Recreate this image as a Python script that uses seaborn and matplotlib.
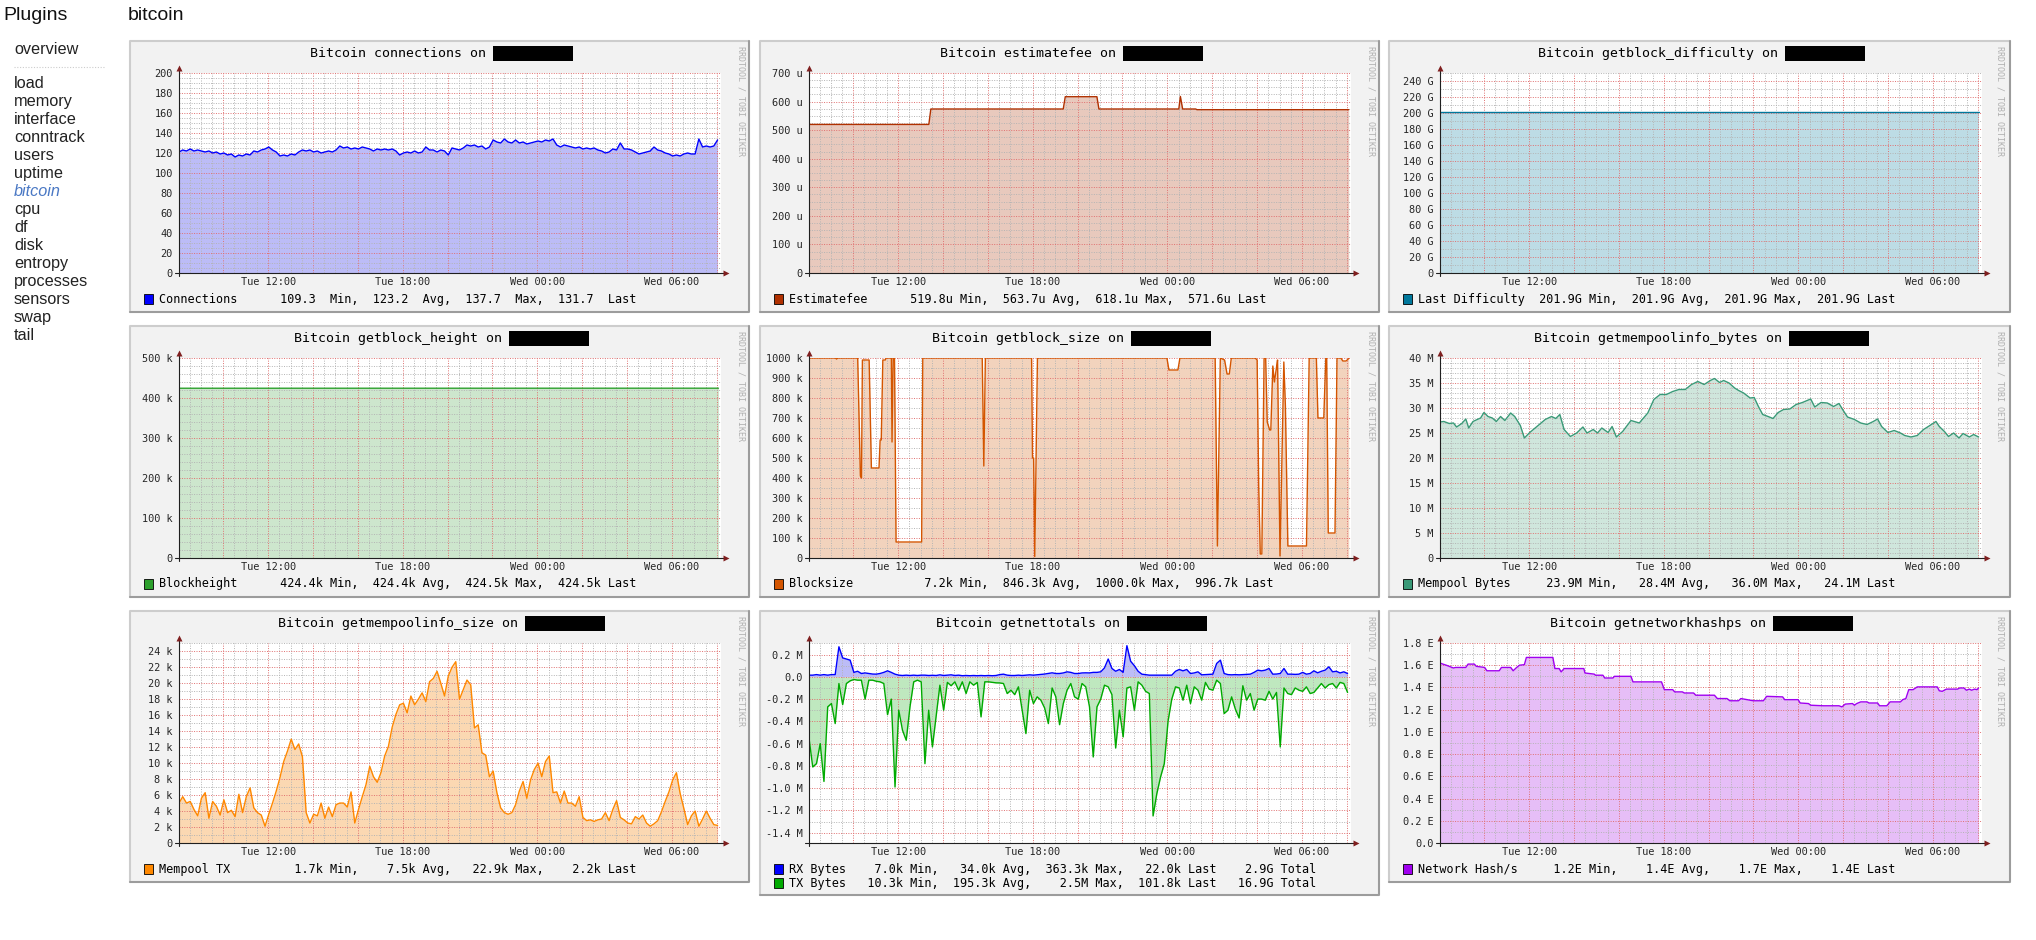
import numpy as np
import seaborn as sns
import matplotlib.pyplot as plt
from matplotlib.patches import Rectangle

sns.set_style("white")
plt.rcParams['font.family'] = ['DejaVu Sans Mono']

W, H = 2036, 940

# ---- data, time in hours since Tue 00:00 ----
# 10 minute samples
t10 = np.linspace(8.03, 32.03, 145)

conn_v = [121, 123, 122, 124, 122, 123, 122, 121, 122, 120,
          121, 119, 120, 118, 119, 116, 118, 117, 119, 118,
          122, 121, 123, 124, 126, 123, 121, 117, 118, 117,
          119, 118, 121, 123, 122, 123, 121, 122, 120, 121,
          122, 121, 123, 127, 125, 126, 124, 125, 124, 126,
          125, 124, 122, 124, 123, 124, 123, 124, 122, 118,
          120, 121, 120, 122, 120, 121, 126, 123, 123, 121,
          123, 122, 118, 125, 124, 123, 125, 128, 127, 128,
          126, 127, 124, 126, 133, 131, 130, 134, 131, 130,
          133, 130, 131, 129, 130, 131, 132, 131, 133, 132,
          134, 128, 126, 128, 127, 126, 125, 126, 124, 125,
          124, 125, 123, 122, 120, 121, 124, 123, 130, 124,
          124, 123, 121, 119, 120, 121, 122, 126, 123, 122,
          120, 119, 117, 118, 117, 119, 120, 119, 119, 134,
          126, 127, 126, 127, 133]

fee_t = [8.03, 13.37, 13.46, 19.36, 19.45, 20.86, 20.95, 24.51, 24.58, 24.68, 25.26, 25.32, 32.08]
fee_v = [520, 520, 574, 574, 617, 617, 574, 574, 618, 574, 574, 571.6, 571.6]

diff_t = [8.03, 32.07]
diff_v = [201.9, 201.9]

height_t = [8.03, 32.07]
height_v = [424.4, 424.5]

bsize_t = [8.03, 9.20, 9.26, 9.32, 10.20, 10.32, 10.37, 10.41, 10.71, 10.81,
           11.15, 11.20, 11.25, 11.32, 11.43, 11.47, 11.70, 11.73, 11.78, 11.84,
           11.91, 13.05, 13.10, 15.75, 15.82, 15.89, 17.95, 17.99, 18.04, 18.09,
           18.21, 23.98, 24.07, 24.47, 24.56, 26.13, 26.23, 26.36, 26.55, 26.66,
           26.76, 26.85, 27.91, 28.00, 28.07, 28.14, 28.21, 28.31, 28.38, 28.45,
           28.56, 28.61, 28.70, 28.77, 28.86, 28.91, 29.02, 29.19, 29.26, 29.37,
           30.20, 30.32, 30.64, 30.71, 30.97, 31.06, 31.10, 31.17, 31.47, 31.56,
           31.73, 31.82, 31.96, 32.08]
bsize_v = [1000, 1000, 995, 1000, 1000, 410, 400, 990, 990, 450,
           450, 590, 590, 990, 990, 1000, 1000, 580, 1000, 1000,
           80, 80, 1000, 1000, 460, 1000, 1000, 500, 500, 7,
           1000, 1000, 940, 940, 1000, 1000, 60, 1000, 990, 920,
           920, 1000, 1000, 990, 360, 20, 20, 1000, 1000, 680,
           640, 640, 960, 880, 950, 990, 10, 980, 760, 60,
           60, 1000, 1000, 700, 700, 1000, 1000, 125, 125, 1000,
           1000, 985, 985, 997]

mbytes_t = [8.03, 8.20, 8.44, 8.63, 8.77, 9.00, 9.18, 9.31, 9.50, 9.69,
            9.84, 9.99, 10.17, 10.36, 10.54, 10.73, 10.92, 11.18, 11.36, 11.61,
            11.79, 12.03, 12.35, 12.72, 13.00, 13.19, 13.37, 13.56, 13.84, 14.12,
            14.40, 14.58, 14.86, 15.05, 15.24, 15.52, 15.70, 15.89, 16.17, 16.54,
            16.91, 17.29, 17.56, 17.84, 18.12, 18.40, 18.68, 18.96, 19.24, 19.52,
            19.80, 20.08, 20.26, 20.49, 20.67, 20.91, 21.16, 21.34, 21.56, 21.85,
            22.03, 22.22, 22.41, 22.65, 22.87, 23.10, 23.34, 23.62, 23.90, 24.18,
            24.55, 24.73, 25.01, 25.29, 25.57, 25.81, 26.00, 26.19, 26.50, 26.78,
            27.06, 27.34, 27.53, 27.71, 27.99, 28.27, 28.55, 28.74, 29.02, 29.30,
            29.58, 29.86, 30.13, 30.28, 30.51, 30.69, 30.92, 31.16, 31.34, 31.62,
            31.81, 32.03]
mbytes_v = [27.2, 27.3, 26.9, 27.0, 26.2, 26.9, 27.8, 26.0, 27.3, 27.7,
            28.0, 29.1, 28.3, 28.0, 27.3, 28.3, 27.5, 29.0, 28.3, 26.5,
            24.0, 25.1, 26.3, 27.7, 28.3, 27.9, 28.7, 25.7, 24.3, 25.0,
            26.2, 25.0, 25.7, 25.0, 26.0, 25.1, 26.3, 24.2, 25.3, 27.5,
            27.0, 29.0, 31.7, 32.7, 32.7, 33.3, 33.7, 33.7, 34.7, 35.3,
            34.7, 35.5, 35.9, 35.1, 35.5, 35.0, 34.0, 33.5, 33.0, 32.0,
            32.1, 30.3, 28.7, 28.3, 27.9, 29.1, 29.7, 29.8, 30.7, 31.1,
            31.8, 30.2, 31.1, 31.0, 30.3, 30.9, 29.5, 28.2, 27.7, 27.0,
            26.7, 27.3, 27.8, 26.3, 25.1, 25.5, 25.0, 24.5, 24.2, 24.5,
            25.7, 26.5, 27.3, 26.3, 25.3, 24.3, 25.0, 24.0, 24.9, 24.2,
            24.7, 24.2]

mtx_v = [5.0, 5.8, 5.0, 5.2, 4.2, 3.4, 5.6, 6.3, 3.1, 5.2,
         4.6, 3.5, 5.4, 3.8, 4.1, 3.3, 6.1, 3.8, 5.8, 6.9,
         4.4, 3.8, 3.5, 2.1, 3.6, 5.0, 6.5, 8.2, 10.2, 11.5,
         13.0, 11.7, 12.4, 10.8, 3.8, 2.5, 3.6, 3.4, 5.0, 3.1,
         4.5, 3.3, 4.8, 5.0, 5.0, 4.5, 6.4, 2.5, 4.2, 5.8,
         7.3, 9.6, 8.3, 7.6, 8.8, 10.9, 12.1, 14.5, 16.1, 17.3,
         17.5, 16.3, 18.4, 17.3, 18.0, 18.8, 17.7, 20.2, 20.6, 21.5,
         20.0, 18.4, 20.9, 22.0, 22.7, 18.0, 19.2, 20.4, 19.8, 14.4,
         14.8, 11.3, 11.0, 8.3, 9.0, 6.3, 4.4, 3.8, 3.6, 3.8,
         4.8, 6.5, 7.7, 5.6, 7.9, 9.2, 10.0, 8.3, 10.2, 10.9,
         6.3, 6.4, 5.0, 6.5, 5.0, 5.0, 4.6, 5.8, 3.2, 2.8,
         2.9, 2.7, 2.9, 3.0, 3.8, 2.8, 4.2, 5.3, 3.2, 2.9,
         2.5, 2.4, 3.3, 3.0, 3.5, 2.5, 2.1, 2.4, 2.8, 3.9,
         5.2, 6.4, 7.9, 8.8, 6.2, 4.3, 2.3, 3.4, 4.0, 2.1,
         3.0, 4.0, 3.1, 2.3, 2.2]

rx_v = [0.015, 0.015, 0.02, 0.015, 0.02, 0.015, 0.02, 0.02, 0.27, 0.17,
        0.16, 0.15, 0.04, 0.05, 0.03, 0.035, 0.03, 0.025, 0.024, 0.03,
        0.04, 0.054, 0.04, 0.024, 0.015, 0.012, 0.015, 0.012, 0.015, 0.012,
        0.015, 0.015, 0.012, 0.014, 0.012, 0.018, 0.012, 0.015, 0.018, 0.012,
        0.015, 0.01, 0.012, 0.01, 0.012, 0.01, 0.012, 0.01, 0.012, 0.01,
        0.012, 0.02, 0.024, 0.015, 0.012, 0.012, 0.015, 0.012, 0.015, 0.018,
        0.015, 0.018, 0.02, 0.025, 0.03, 0.036, 0.03, 0.03, 0.035, 0.045,
        0.04, 0.03, 0.03, 0.035, 0.036, 0.035, 0.04, 0.04, 0.045, 0.08,
        0.16, 0.075, 0.05, 0.066, 0.04, 0.28, 0.14, 0.10, 0.05, 0.024,
        0.02, 0.015, 0.015, 0.015, 0.015, 0.015, 0.015, 0.015, 0.05, 0.066,
        0.054, 0.066, 0.03, 0.035, 0.045, 0.018, 0.02, 0.022, 0.024, 0.12,
        0.15, 0.03, 0.02, 0.018, 0.02, 0.018, 0.02, 0.022, 0.024, 0.04,
        0.06, 0.054, 0.06, 0.075, 0.024, 0.025, 0.03, 0.075, 0.024, 0.024,
        0.022, 0.024, 0.04, 0.024, 0.03, 0.054, 0.036, 0.05, 0.06, 0.09,
        0.045, 0.05, 0.035, 0.045, 0.03]
tx_v = [-0.55, -0.81, -0.78, -0.60, -0.94, -0.27, -0.24, -0.42, -0.06, -0.25,
        -0.06, -0.036, -0.024, -0.03, -0.03, -0.20, -0.03, -0.03, -0.04, -0.045,
        -0.06, -0.34, -0.20, -0.99, -0.30, -0.48, -0.57, -0.27, -0.045, -0.03,
        -0.045, -0.78, -0.30, -0.63, -0.35, -0.075, -0.30, -0.05, -0.08, -0.045,
        -0.12, -0.045, -0.15, -0.045, -0.075, -0.05, -0.36, -0.045, -0.045, -0.05,
        -0.054, -0.055, -0.06, -0.15, -0.12, -0.16, -0.09, -0.30, -0.51, -0.12,
        -0.24, -0.18, -0.21, -0.28, -0.42, -0.10, -0.18, -0.43, -0.24, -0.12,
        -0.06, -0.18, -0.20, -0.06, -0.09, -0.27, -0.72, -0.27, -0.20, -0.075,
        -0.09, -0.16, -0.64, -0.30, -0.54, -0.10, -0.09, -0.30, -0.045, -0.075,
        -0.13, -0.15, -1.25, -1.05, -0.90, -0.78, -0.40, -0.20, -0.09, -0.10,
        -0.21, -0.075, -0.24, -0.09, -0.12, -0.21, -0.05, -0.11, -0.12, -0.03,
        -0.06, -0.33, -0.30, -0.18, -0.29, -0.37, -0.08, -0.21, -0.15, -0.30,
        -0.20, -0.20, -0.21, -0.13, -0.20, -0.14, -0.63, -0.10, -0.15, -0.16,
        -0.10, -0.12, -0.13, -0.09, -0.15, -0.14, -0.10, -0.06, -0.10, -0.07,
        -0.06, -0.10, -0.05, -0.06, -0.14]

hash_t = [8.03, 8.16, 8.31, 8.44, 8.63, 8.72, 9.18, 9.28, 9.56, 9.65,
          10.02, 10.12, 10.67, 10.77, 11.18, 11.29, 11.42, 11.57, 11.79, 11.88,
          13.06, 13.15, 13.34, 13.43, 13.56, 14.44, 14.49, 14.90, 14.96, 15.29,
          15.37, 15.74, 15.80, 16.54, 16.63, 17.90, 18.03, 18.40, 18.49, 18.83,
          18.92, 19.33, 19.43, 19.71, 19.80, 20.26, 20.39, 20.82, 20.95, 21.33,
          21.44, 21.72, 21.85, 22.00, 22.44, 22.59, 23.30, 23.39, 23.99, 24.08,
          24.45, 24.55, 25.11, 25.81, 25.94, 26.09, 26.41, 26.50, 26.60, 26.78,
          27.06, 27.15, 27.53, 27.62, 27.94, 28.09, 28.55, 28.65, 28.79, 28.92,
          29.11, 29.30, 30.19, 30.28, 30.41, 30.60, 31.10, 31.18, 31.38, 31.49,
          31.62, 31.72, 31.85, 31.96, 32.03]
hash_v = [1.62, 1.61, 1.60, 1.59, 1.575, 1.58, 1.58, 1.61, 1.61, 1.59,
          1.58, 1.55, 1.55, 1.58, 1.58, 1.55, 1.575, 1.60, 1.605, 1.67,
          1.67, 1.57, 1.57, 1.54, 1.57, 1.57, 1.53, 1.52, 1.51, 1.51,
          1.485, 1.485, 1.50, 1.50, 1.45, 1.45, 1.38, 1.38, 1.36, 1.36,
          1.35, 1.35, 1.33, 1.33, 1.33, 1.33, 1.30, 1.30, 1.28, 1.28,
          1.30, 1.29, 1.285, 1.28, 1.28, 1.32, 1.315, 1.29, 1.29, 1.26,
          1.255, 1.24, 1.235, 1.235, 1.225, 1.25, 1.255, 1.24, 1.255, 1.27,
          1.27, 1.26, 1.26, 1.235, 1.235, 1.27, 1.27, 1.29, 1.30, 1.38,
          1.38, 1.405, 1.405, 1.37, 1.365, 1.385, 1.385, 1.395, 1.395, 1.375,
          1.385, 1.375, 1.385, 1.38, 1.395]

xtick_labels = {12: 'Tue 12:00', 18: 'Tue 18:00', 24: 'Wed 00:00', 30: 'Wed 06:00'}
menu_items = ['load', 'memory', 'interface', 'conntrack', 'users', 'uptime', 'bitcoin',
              'cpu', 'df', 'disk', 'entropy', 'processes', 'sensors', 'swap', 'tail']

# ---- layout (pixels) ----
COLS = [(130, 619, 179), (760, 619, 809), (1389, 621, 1440)]
ROWS = [(41, 273), (326, 558), (611, 843)]
PW, PH = 542, 200
XMIN = 8.03
XMAX = XMIN + PW / 22.44

fig = plt.figure(figsize=(W / 100, H / 100), dpi=100)
fig.patch.set_facecolor('white')
bg = fig.add_axes([0, 0, 1, 1], zorder=0)
bg.set_xlim(0, W); bg.set_ylim(H, 0); bg.axis('off')
top = fig.add_axes([0, 0, 1, 1], zorder=5)
top.set_xlim(0, W); top.set_ylim(H, 0); top.axis('off')
top.patch.set_alpha(0)

SANS = 'Liberation Sans'


def fmt_labels(vals, unit, zero, dec):
    out = []
    for v in vals:
        if abs(v) < 1e-9:
            out.append(zero)
        else:
            out.append(f"{v:.{dec}f} {unit}".rstrip())
    return out


def draw_panel(col, row, title, series, ylim, majors, labels, minor_step, legend, ph=271):
    pl, pw, L = COLS[col]
    pt, B = ROWS[row]
    T = B - PH
    # frame
    bg.add_patch(Rectangle((pl, pt), pw, ph, facecolor='#f2f2f2', edgecolor='none'))
    bg.plot([pl, pl, pl + pw], [pt + ph, pt, pt], color='#cdcdcd', lw=1.5)
    bg.plot([pl, pl + pw, pl + pw], [pt + ph, pt + ph, pt], color='#9c9c9c', lw=1.5)

    ax = fig.add_axes([L / W, (H - B) / H, PW / W, PH / H], zorder=1)
    ax.set_facecolor('white')
    for t, v, lc, fc in series:
        ax.fill_between(t, 0, v, color=fc, lw=0, zorder=1)
        sns.lineplot(x=t, y=v, ax=ax, color=lc, lw=1.0, estimator=None,
                     sort=False, zorder=3, legend=False)
    ax.set_xlim(XMIN, XMAX)
    ax.set_ylim(*ylim)
    xmaj = np.arange(10, 33, 2)
    ax.set_xticks(xmaj)
    ax.set_xticklabels([xtick_labels.get(int(h), '') for h in xmaj])
    ax.set_xticks([h for h in np.arange(8.5, XMAX, 0.5) if h % 2 != 0], minor=True)
    ax.set_yticks(majors)
    ax.set_yticklabels(labels)
    start = np.ceil(ylim[0] / minor_step) * minor_step
    ymin = [y for y in np.arange(start, ylim[1], minor_step)
            if min(abs(y - m) for m in majors) > minor_step * 0.1]
    ax.set_yticks(ymin, minor=True)
    ax.tick_params(which='major', length=2, width=0.7, color='#1f1f1f', labelsize=7.4)
    ax.tick_params(axis='x', which='major', pad=1.2)
    ax.tick_params(axis='y', which='major', pad=2.5)
    ax.tick_params(which='minor', length=0)
    ax.grid(which='major', color='#e07070', lw=0.7, ls=(0, (1, 1.5)))
    ax.grid(which='minor', color='#b4b4b4', lw=0.7, ls=(0, (1, 1.5)))
    ax.set_axisbelow(False)
    for s in ax.spines.values():
        s.set_visible(False)
    ax.set_xlabel('')
    ax.set_ylabel('')

    # axes and arrows
    top.plot([L - 4, L + PW + 4], [B, B], color='#1f1f1f', lw=0.8)
    top.plot([L, L], [B + 3, T - 3], color='#1f1f1f', lw=0.8)
    top.plot([L + PW + 5], [B], marker='>', ms=4, color='#7f1f1f', mec='none')
    top.plot([L], [T - 5], marker='^', ms=4, color='#7f1f1f', mec='none')

    # title with redacted host box
    fs = 9.5
    tw = len(title) * 0.602 * fs * 100 / 72
    gw = tw + 8 + 80
    x0 = pl + pw / 2 + 2 - gw / 2
    top.text(x0, pt + 12.5, title, fontsize=fs, ha='left', va='center', color='black')
    top.add_patch(Rectangle((x0 + tw + 8, pt + 5), 80, 15, facecolor='black', edgecolor='none'))

    # watermark
    top.text(pl + 611, pt + 5, 'RRDTOOL / TOBI OETIKER', fontsize=6, rotation=270,
             ha='center', va='top', color='#b0b0b0')

    # legend
    for i, (txt, c) in enumerate(legend):
        yc = B + 26 + 14 * i
        top.add_patch(Rectangle((pl + 14, yc - 5), 9, 10, facecolor=c,
                                edgecolor='black', lw=0.6))
        top.text(pl + 29, yc, txt, fontsize=8.5, ha='left', va='center', color='black')


# ---- panels ----
draw_panel(0, 0, 'Bitcoin connections on',
           [(t10, conn_v, '#0000ff', '#bcbcf7')],
           (0, 200), list(range(0, 201, 20)),
           [str(v) for v in range(0, 201, 20)], 5,
           [('Connections      109.3  Min,  123.2  Avg,  137.7  Max,  131.7  Last', '#0000ff')])

draw_panel(1, 0, 'Bitcoin estimatefee on',
           [(fee_t, fee_v, '#b03000', '#e8c9bd')],
           (0, 700), list(range(0, 701, 100)),
           fmt_labels(range(0, 701, 100), 'u', '0', 0), 25,
           [('Estimatefee      519.8u Min,  563.7u Avg,  618.1u Max,  571.6u Last', '#b03000')])

draw_panel(2, 0, 'Bitcoin getblock_difficulty on',
           [(diff_t, diff_v, '#00789c', '#bddce5')],
           (0, 250.4), list(range(0, 241, 20)),
           fmt_labels(range(0, 241, 20), 'G', '0', 0), 10,
           [('Last Difficulty  201.9G Min,  201.9G Avg,  201.9G Max,  201.9G Last', '#00789c')])

draw_panel(0, 1, 'Bitcoin getblock_height on',
           [(height_t, height_v, '#2ca02c', '#cde6cd')],
           (0, 500), list(range(0, 501, 100)),
           fmt_labels(range(0, 501, 100), 'k', '0', 0), 20,
           [('Blockheight      424.4k Min,  424.4k Avg,  424.5k Max,  424.5k Last', '#2ca02c')])

draw_panel(1, 1, 'Bitcoin getblock_size on',
           [(bsize_t, bsize_v, '#d45500', '#f2d3bd')],
           (0, 1000), list(range(0, 1001, 100)),
           fmt_labels(range(0, 1001, 100), 'k', '0', 0), 50,
           [('Blocksize          7.2k Min,  846.3k Avg,  1000.0k Max,  996.7k Last', '#d45500')])

draw_panel(2, 1, 'Bitcoin getmempoolinfo_bytes on',
           [(mbytes_t, mbytes_v, '#3a9a78', '#cfe6dc')],
           (0, 40), list(range(0, 41, 5)),
           fmt_labels(range(0, 41, 5), 'M', '0', 0), 1,
           [('Mempool Bytes     23.9M Min,   28.4M Avg,   36.0M Max,   24.1M Last', '#3a9a78')])

draw_panel(0, 2, 'Bitcoin getmempoolinfo_size on',
           [(t10, mtx_v, '#ff8800', '#fbd8b2')],
           (0, 25.04), list(range(0, 25, 2)),
           fmt_labels(range(0, 25, 2), 'k', '0', 0), 1,
           [('Mempool TX         1.7k Min,    7.5k Avg,   22.9k Max,    2.2k Last', '#ff8800')])

net_major = [-1.4, -1.2, -1.0, -0.8, -0.6, -0.4, -0.2, 0.0, 0.2]
draw_panel(1, 2, 'Bitcoin getnettotals on',
           [(t10, rx_v, '#0000ff', '#bcbcf7'), (t10, tx_v, '#00aa00', '#bfe8bf')],
           (-1.493, 0.304), net_major,
           fmt_labels(net_major, 'M', '0.0', 1), 0.1,
           [('RX Bytes    7.0k Min,   34.0k Avg,  363.3k Max,   22.0k Last    2.9G Total', '#0000ff'),
            ('TX Bytes   10.3k Min,  195.3k Avg,    2.5M Max,  101.8k Last   16.9G Total', '#00aa00')],
           ph=284)

hash_major = [0.0, 0.2, 0.4, 0.6, 0.8, 1.0, 1.2, 1.4, 1.6, 1.8]
draw_panel(2, 2, 'Bitcoin getnetworkhashps on',
           [(hash_t, hash_v, '#a000f0', '#e6bef7')],
           (0, 1.8), hash_major,
           fmt_labels(hash_major, 'E', '0.0', 1), 0.1,
           [('Network Hash/s     1.2E Min,    1.4E Avg,    1.7E Max,    1.4E Last', '#a000f0')])

# ---- sidebar and heading ----
top.text(3, 15, 'Plugins', fontfamily=SANS, fontsize=14, ha='left', va='center', color='#111111')
top.text(128, 15, 'bitcoin', fontfamily=SANS, fontsize=14, ha='left', va='center', color='#111111')
top.text(14, 49, 'overview', fontfamily=SANS, fontsize=11.7, ha='left', va='center', color='#222222')
top.plot([14, 104], [67, 67], color='#cccccc', lw=0.8, ls=(0, (1, 1.5)))
for i, name in enumerate(menu_items):
    is_cur = name == 'bitcoin'
    top.text(14, 83 + 18.05 * i, name, fontfamily=SANS, fontsize=11.7, ha='left', va='center',
             color='#4a78c4' if is_cur else '#222222', style='italic' if is_cur else 'normal')

fig.savefig('out.png', dpi=100, facecolor='white')
